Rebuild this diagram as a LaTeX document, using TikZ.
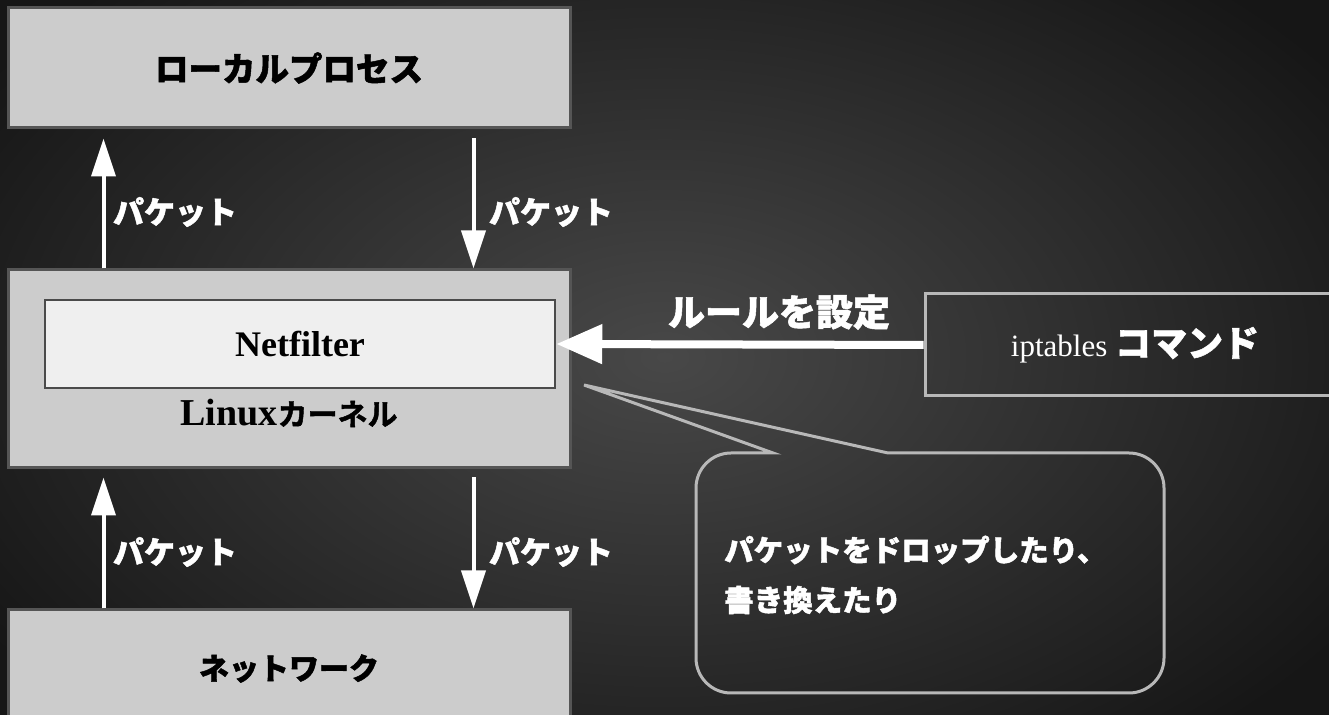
\documentclass[tikz,border=0pt]{standalone}
\usepackage{fontspec}
\setmainfont{Liberation Serif}
\newfontfamily\cjk[FakeBold=1.5]{Noto Sans CJK JP Black}
\usetikzlibrary{arrows.meta,calc}
\definecolor{bgin}{HTML}{484848}
\definecolor{bgout}{HTML}{161616}
\definecolor{boxfill}{HTML}{CCCCCC}
\definecolor{boxline}{HTML}{555555}
\definecolor{nffill}{HTML}{EFEFEF}
\definecolor{nfline}{HTML}{4A4A4A}
\definecolor{outline}{HTML}{B8B8B8}
\begin{document}
\begin{tikzpicture}[x=1pt,y=1pt,
  graybox/.style={draw=boxline, line width=3pt, fill=boxfill, inner sep=0pt},
  pkt/.style={white, line width=4pt, -{Triangle[width=24pt,length=38pt]}},
  pktlabel/.style={text=white, font=\cjk\fontsize{31}{36}\selectfont, inner sep=0pt},
  whitetext/.style={text=white, inner sep=0pt}]
\useasboundingbox (0,0) rectangle (1329,714);
\shade[inner color=bgin, outer color=bgout] (-150,-150) rectangle (1479,864);
% boxes
\node[graybox, minimum width=562pt, minimum height=120pt, font=\cjk\fontsize{33.5}{36}\selectfont] (proc) at (289,646) {ローカルプロセス};
\node[graybox, minimum width=562pt, minimum height=198pt] (kernel) at (289,345) {};
\node[draw=nfline, line width=2.5pt, fill=nffill, minimum width=510pt, minimum height=88pt, inner sep=0pt, font=\bfseries\fontsize{36}{40}\selectfont] (nf) at (300,370) {Netfilter};
\node[inner sep=0pt, font=\bfseries\fontsize{38}{42}\selectfont] (klabel) at (289,301) {Linux{\cjk\fontsize{30}{34}\selectfont カーネル}};
\node[graybox, minimum width=562pt, minimum height=120pt, font=\cjk\fontsize{30}{36}\selectfont] (net) at (289,44) {\raisebox{6pt}{ネットワーク}};
\node[draw=outline, line width=3pt, minimum width=420pt, minimum height=102pt, inner sep=0pt, text=white] (ipt) at (1135,369) {\fontsize{31}{34}\selectfont iptables {\cjk\fontsize{36}{38}\selectfont コマンド}};
% packet arrows
\draw[pkt] ($(kernel.north west)+(97,0)$) -- ($(proc.south west)+(97,-9)$);
\draw[pkt] ($(proc.south west)+(467,-9)$) -- ($(kernel.north west)+(467,0)$);
\draw[pkt] ($(net.north west)+(97,0)$) -- ($(kernel.south west)+(97,-8)$);
\draw[pkt] ($(kernel.south west)+(467,-8)$) -- ($(net.north west)+(467,0)$);
\node[pktlabel] (p1) at (175,502) {パケット};
\node[pktlabel] (p2) at (551,502) {パケット};
\node[pktlabel] (p3) at (175,162) {パケット};
\node[pktlabel] (p4) at (551,162) {パケット};
% rule arrow
\draw[white, line width=8pt, -{Triangle[width=38pt,length=46pt]}] (ipt.west) -- (nf.east);
\node[whitetext, font=\cjk\fontsize{37}{40}\selectfont] (rule) at (779,402) {ルールを設定};
% callout
\coordinate (tip) at (584,329);
\draw[outline, line width=3pt] (773,261) -- (tip) -- (888,261) -- (1129,261)
  arc[start angle=90,end angle=0,radius=35] -- (1164,56)
  arc[start angle=0,end angle=-90,radius=35] -- (731,21)
  arc[start angle=270,end angle=180,radius=35] -- (696,226)
  arc[start angle=180,end angle=90,radius=35] -- cycle;
\node[whitetext, anchor=west, font=\cjk\fontsize{29.5}{34}\selectfont] (c1) at (724,164) {パケットをドロップしたり、};
\node[whitetext, anchor=west, font=\cjk\fontsize{29.5}{34}\selectfont] (c2) at (724,114) {書き換えたり};
\end{tikzpicture}
\end{document}
